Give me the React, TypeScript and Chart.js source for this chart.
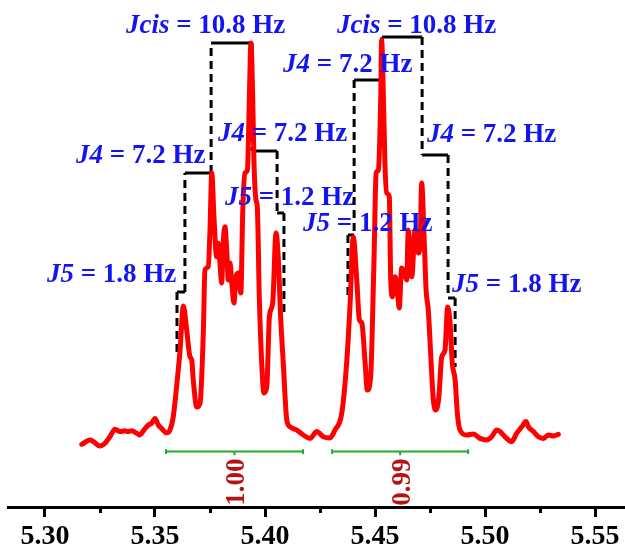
import { useEffect, useRef } from 'react';
import { Chart, registerables } from 'chart.js';

Chart.register(...registerables);

// Spectrum trace: chemical shift (ppm) and relative intensity
const shiftPpm = [
  5.3167, 5.3205, 5.3220, 5.3250, 5.3273, 5.3295, 5.3318, 5.3341, 5.3364, 5.3377,
  5.3394, 5.3417, 5.3432, 5.3447, 5.3470, 5.3485, 5.3500, 5.3515, 5.3530, 5.3553,
  5.3568, 5.3583, 5.3599, 5.3614, 5.3629, 5.3644, 5.3659, 5.3667, 5.3674, 5.3690,
  5.3705, 5.3720, 5.3727, 5.3742, 5.3750, 5.3758, 5.3768, 5.3780, 5.3788, 5.3795,
  5.3803, 5.3810, 5.3818, 5.3826, 5.3833, 5.3841, 5.3849, 5.3859, 5.3868, 5.3879,
  5.3890, 5.3899, 5.3909, 5.3920, 5.3929, 5.3936, 5.3944, 5.3950, 5.3959, 5.3965,
  5.3974, 5.3985, 5.3995, 5.4008, 5.4020, 5.4035, 5.4050, 5.4060, 5.4071, 5.4083,
  5.4099, 5.4114, 5.4144, 5.4174, 5.4205, 5.4235, 5.4265, 5.4295, 5.4318, 5.4349,
  5.4371, 5.4386, 5.4401, 5.4417, 5.4429, 5.4440, 5.4455, 5.4465, 5.4480, 5.4495,
  5.4505, 5.4515, 5.4526, 5.4530, 5.4538, 5.4545, 5.4553, 5.4565, 5.4571, 5.4579,
  5.4591, 5.4601, 5.4610, 5.4621, 5.4632, 5.4644, 5.4651, 5.4659, 5.4667, 5.4682,
  5.4697, 5.4705, 5.4712, 5.4723, 5.4732, 5.4742, 5.4755, 5.4765, 5.4777, 5.4790,
  5.4803, 5.4818, 5.4830, 5.4841, 5.4851, 5.4864, 5.4874, 5.4886, 5.4917, 5.4947,
  5.4977, 5.5008, 5.5030, 5.5053, 5.5068, 5.5091, 5.5121, 5.5144, 5.5167, 5.5186,
  5.5197, 5.5220, 5.5242, 5.5265, 5.5288, 5.5311, 5.5333,
];
const intensity = [
  -1.1, 0, -0.4, -1.5, -0.8, 0.8, 2.7, 2.1, 2.3, 2.1,
  2.3, 1.7, 1.25, 2.3, 3.75, 4.2, 5.4, 3.75, 2.9, 1.8,
  2.5, 5.8, 13.75, 22.5, 33.5, 27.5, 20.8, 20, 15, 8.25,
  9.25, 27.5, 42.5, 43.3, 52.5, 66.75, 55.8, 45.8, 49.2, 44.25,
  39.25, 49.25, 53.3, 47.5, 40, 44.25, 39.25, 34.25, 40.8, 41.75,
  36.75, 57.5, 66.75, 67.5, 85.8, 99.25, 85.8, 69.25, 60, 58.3,
  35.8, 19.25, 11.75, 13.3, 30.8, 34.25, 51.75, 45.8, 30.8, 19.25,
  5, 3.3, 2.5, 1.25, 0.4, 2.1, 0.8, 0.5, 2.5, 6.75,
  19.25, 33.25, 50.75, 40, 30, 29.25, 19.25, 12.5, 15.75, 44.25,
  66.75, 67.5, 85.8, 100, 85.8, 69.25, 61.75, 60.8, 40.8, 35.8,
  40.8, 37.5, 33, 43, 42, 40, 52.5, 47.5, 40.8, 52.5,
  46.75, 49.25, 64.25, 50.8, 37.5, 32.5, 19.25, 10, 7.5, 10.75,
  20.75, 22.5, 33.25, 29.25, 19.25, 15, 6.75, 2.5, 1.25, 1.5,
  0.4, 0, 0.8, 2.5, 2.1, 0.8, -0.4, 1.7, 3.3, 4.6,
  3.3, 2.1, 0.8, 0.4, 1.25, 1, 1.4,
];

// Axis ticks
const majorTicks = [5.30, 5.35, 5.40, 5.45, 5.50, 5.55];
const minorTicks = [5.325, 5.375, 5.425, 5.475, 5.525];

// Coupling tree brackets (ppm, level)
const bracketAppm = [5.36, 5.36, 5.3636, 5.3636, 5.3755, 5.3755, 5.3941];
const bracketAlvl = [22, 37, 37, 66.75, 66.75, 99.25, 99.25];
const bracketBppm = [5.3941, 5.3941, 5.4055, 5.4055, 5.4086, 5.4086];
const bracketBlvl = [99.25, 72.25, 72.25, 56.75, 56.75, 31.75];
const bracketCppm = [5.4532, 5.4714, 5.4714, 5.4832, 5.4832, 5.4864, 5.4864];
const bracketClvl = [100.75, 100.75, 71.25, 71.25, 35.5, 35.5, 18.25];
const bracketDppm = [5.4532, 5.4532, 5.4405, 5.4405, 5.4377, 5.4377];
const bracketDlvl = [100.75, 90, 90, 51.25, 51.25, 35.75];

// Coupling labels
const couplingSymbol = ['Jcis', 'Jcis', 'J4', 'J4', 'J4', 'J4', 'J5', 'J5', 'J5', 'J5'];
const couplingValue = [' = 10.8 Hz', ' = 10.8 Hz', ' = 7.2 Hz', ' = 7.2 Hz', ' = 7.2 Hz', ' = 7.2 Hz', ' = 1.2 Hz', ' = 1.2 Hz', ' = 1.8 Hz', ' = 1.8 Hz'];
const couplingPpm = [5.3368, 5.4327, 5.4082, 5.3141, 5.3786, 5.4736, 5.3818, 5.4173, 5.3009, 5.4850];
const couplingLvl = [101.75, 101.75, 92, 69.25, 74.75, 74.5, 58.75, 52.25, 39.5, 37];

// Integrals
const integralStart = [5.3550, 5.4305];
const integralEnd = [5.4173, 5.4923];
const integralValue = ['1.00', '0.99'];

const BLUE = 'rgb(20,20,240)';
const GREEN = 'rgb(40,170,40)';
const DARKRED = 'rgb(185,18,18)';

const pts = (xs: number[], ys: number[]) => xs.map((x, i) => ({ x, y: ys[i] }));

const annotationPlugin = {
  id: 'nmrAnnotations',
  afterDraw(chart: any) {
    const { ctx } = chart;
    const xs = chart.scales.x;
    const ys = chart.scales.y;
    ctx.save();
    // minor ticks
    ctx.strokeStyle = '#000';
    ctx.lineWidth = 3;
    minorTicks.forEach((v) => {
      const px = Math.round(xs.getPixelForValue(v)) + 0.5;
      ctx.beginPath();
      ctx.moveTo(px, xs.top);
      ctx.lineTo(px, xs.top + 6);
      ctx.stroke();
    });
    // coupling labels
    ctx.fillStyle = BLUE;
    ctx.textBaseline = 'alphabetic';
    ctx.textAlign = 'left';
    couplingSymbol.forEach((sym, i) => {
      let px = xs.getPixelForValue(couplingPpm[i]);
      const py = ys.getPixelForValue(couplingLvl[i]);
      ctx.font = 'italic bold 27px "Liberation Serif"';
      ctx.fillText(sym, px, py);
      px += ctx.measureText(sym).width;
      ctx.font = 'bold 27px "Liberation Serif"';
      ctx.fillText(couplingValue[i], px, py);
    });
    // integral values
    ctx.fillStyle = DARKRED;
    ctx.font = 'bold 27px "Liberation Serif"';
    ctx.textAlign = 'center';
    ctx.textBaseline = 'middle';
    integralValue.forEach((t, i) => {
      const mid = (integralStart[i] + integralEnd[i]) / 2 + 0.0012;
      const px = xs.getPixelForValue(mid);
      const py = ys.getPixelForValue(-10.5);
      ctx.save();
      ctx.translate(px, py);
      ctx.rotate(-Math.PI / 2);
      ctx.fillText(t, 0, 0);
      ctx.restore();
    });
    ctx.restore();
  },
};

export default function App() {
  const ref = useRef<HTMLCanvasElement | null>(null);
  useEffect(() => {
    if (!ref.current) return;
    // each bracket path is split into pieces: horizontal solid, vertical dashed
    const bracketPieces = (xs: number[], ys: number[]) => {
      const out: any[] = [];
      for (let i = 0; i < xs.length - 1; i++) {
        const horizontal = Math.abs(ys[i] - ys[i + 1]) < 1e-9;
        out.push({
          data: pts([xs[i], xs[i + 1]], [ys[i], ys[i + 1]]),
          borderColor: '#000',
          borderWidth: 3,
          borderDash: horizontal ? [] : [8, 5],
          borderCapStyle: 'butt',
          pointRadius: 0,
          tension: 0,
          order: 1,
        });
      }
      return out;
    };
    const green = (xs: number[], ys: number[]) => ({
      data: pts(xs, ys),
      borderColor: GREEN,
      borderWidth: 2,
      pointRadius: 0,
      tension: 0,
      order: 2,
    });
    const integralSets: any[] = [];
    integralStart.forEach((s, i) => {
      const e = integralEnd[i];
      const m = (s + e) / 2;
      integralSets.push(green([s, e], [-2.9, -2.9]));
      integralSets.push(green([s, s], [-2.3, -3.5]));
      integralSets.push(green([e, e], [-2.3, -3.5]));
      integralSets.push(green([m, m], [-2.9, -3.8]));
    });
    const chart = new Chart(ref.current, {
      type: 'line',
      data: {
        datasets: [
          {
            data: pts(shiftPpm, intensity),
            borderColor: '#ff0000',
            borderWidth: 5,
            pointRadius: 0,
            cubicInterpolationMode: 'monotone',
            borderJoinStyle: 'round',
            borderCapStyle: 'round',
            order: 0,
          },
          ...bracketPieces(bracketAppm, bracketAlvl),
          ...bracketPieces(bracketBppm, bracketBlvl),
          ...bracketPieces(bracketCppm, bracketClvl),
          ...bracketPieces(bracketDppm, bracketDlvl),
          ...integralSets,
        ],
      } as any,
      options: {
        animation: false,
        responsive: false,
        maintainAspectRatio: false,
        layout: { padding: { left: 8, right: 0, top: 0, bottom: 0 } },
        plugins: { legend: { display: false }, tooltip: { enabled: false } },
        scales: {
          x: {
            type: 'linear',
            min: 5.2832,
            max: 5.5636,
            afterBuildTicks: (s: any) => {
              s.ticks = majorTicks.map((v) => ({ value: v }));
            },
            afterFit: (s: any) => {
              s.height = 43;
            },
            border: { display: true, color: '#000', width: 3 },
            grid: {
              display: true,
              drawOnChartArea: false,
              drawTicks: true,
              tickLength: 10,
              tickColor: '#000',
              tickWidth: 3,
            },
            ticks: {
              autoSkip: false,
              maxRotation: 0,
              minRotation: 0,
              padding: 3,
              color: '#000',
              font: { family: 'Liberation Serif', weight: 'bold', size: 28 },
              callback: (v: any) => Number(v).toFixed(2),
            },
          },
          y: { display: false, min: -16.75, max: 110 },
        },
      } as any,
      plugins: [annotationPlugin],
    });
    return () => chart.destroy();
  }, []);
  return (
    <div style={{ position: 'absolute', left: 0, top: 0, width: 625, height: 550, background: '#fff' }}>
      <canvas ref={ref} width={625} height={550} style={{ width: 625, height: 550, display: 'block' }} />
    </div>
  );
}
